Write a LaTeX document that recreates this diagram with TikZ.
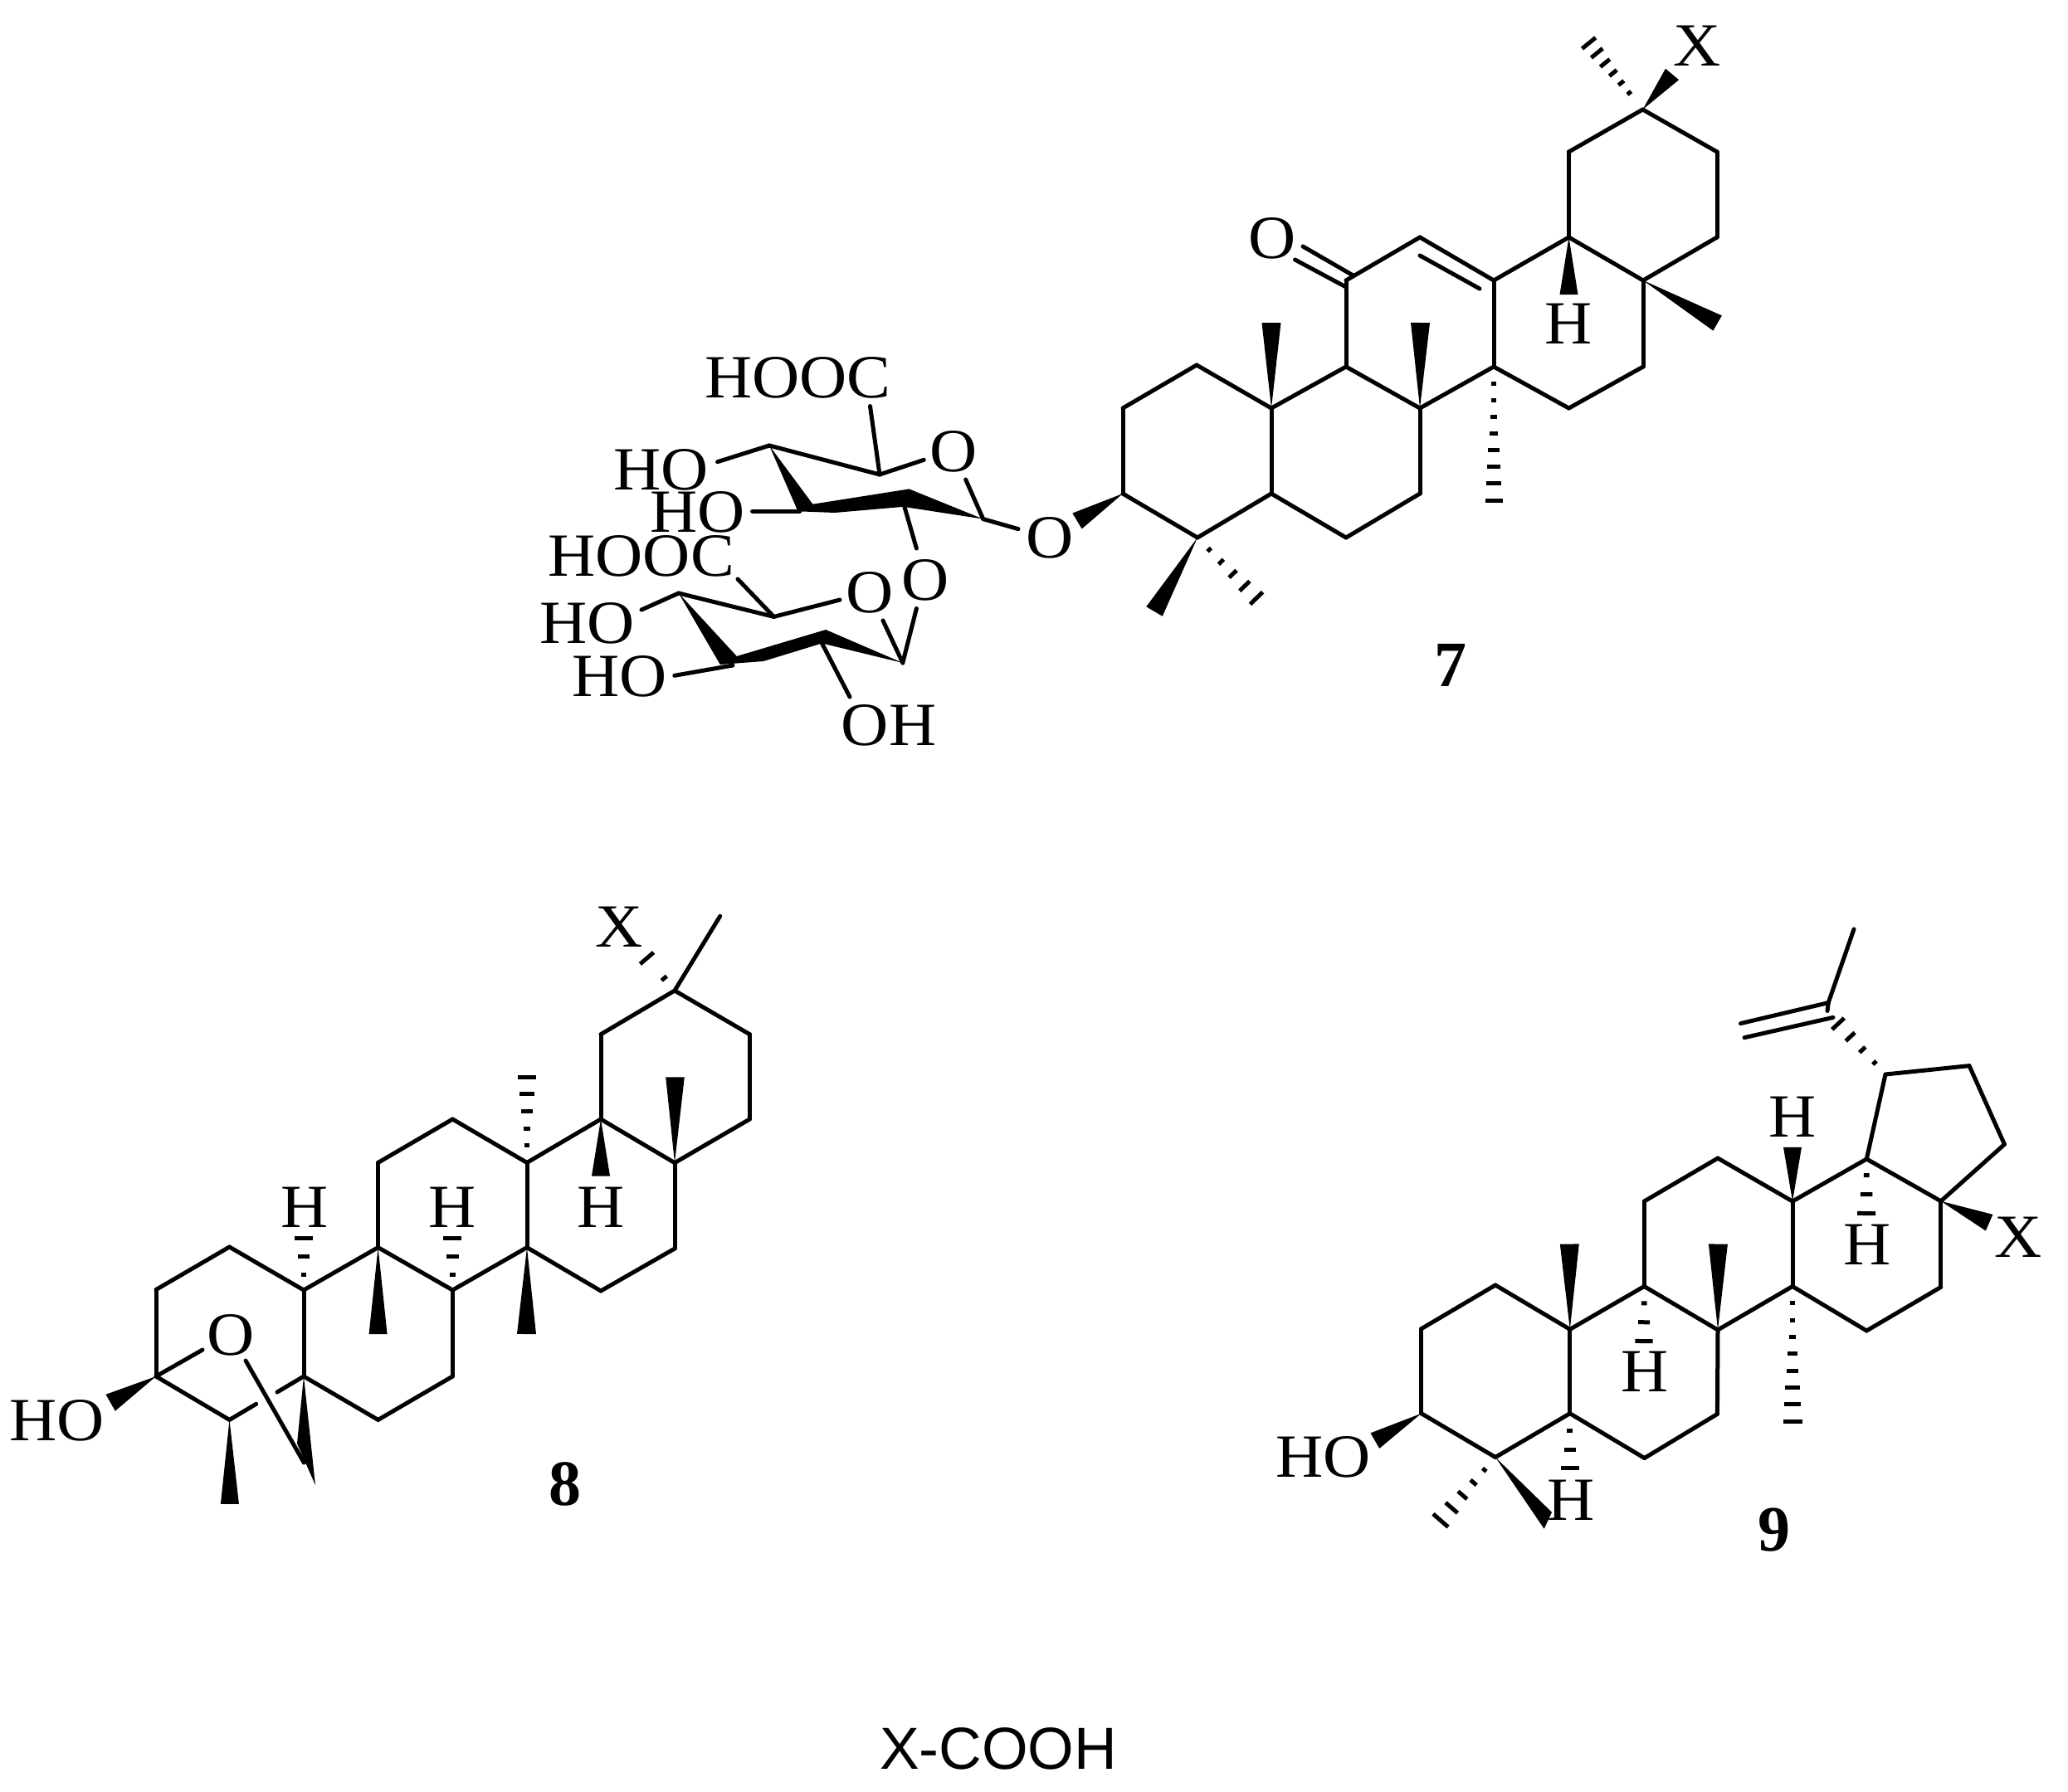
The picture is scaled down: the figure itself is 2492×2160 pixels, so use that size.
\documentclass[tikz,border=0pt]{standalone}
\usepackage{fontspec}
\usetikzlibrary{calc}
\newfontfamily\labfont[FakeStretch=1.07]{Liberation Serif}
\newfontfamily\numfont{Liberation Serif}
\newfontfamily\sansfnt{Liberation Sans}
\tikzset{
  bondline/.style={line width=5pt,line cap=round,line join=round,black},
  hashline/.style={line width=5pt,line cap=butt,black},
  lab/.style={font=\labfont\fontsize{74}{78}\selectfont,inner sep=0pt,black},
  numlab/.style={font=\numfont\bfseries\fontsize{78}{80}\selectfont,inner sep=0pt,black},
  notelab/.style={font=\sansfnt\fontsize{71.5}{75}\selectfont,inner sep=0pt,black}
}
% solid wedge: apex, centre of base, half width of base
\newcommand\wdg[3]{\fill[black] (#1) -- ($(#2)!#3pt!90:(#1)$) -- ($(#2)!#3pt!-90:(#1)$) -- cycle;}
% hashed wedge: apex, far end, count, first fraction, half width at far end
\newcommand\hsh[5]{%
  \foreach \hI in {1,...,#3}{%
    \pgfmathsetmacro\hT{#4+(1-#4)*(\hI-1)/max(#3-1,1)}%
    \pgfmathsetmacro\hW{max(#5*\hT,3)}%
    \draw[hashline] ($(#1)!\hT!(#2)!\hW pt!90:(#1)$) -- ($(#1)!\hT!(#2)!\hW pt!-90:(#1)$);
  }}
\newcommand\atoms[1]{\foreach \nA/\xA/\yA in {#1}{\coordinate (\nA) at (\xA,\yA);}}
\newcommand\bonds[1]{\foreach \aB/\bB in {#1}{\draw[bondline] (\aB) -- (\bB);}}
\begin{document}
\begin{tikzpicture}[x=1pt,y=-1pt]
\useasboundingbox (0,0) rectangle (2492,2160);
\fill[white] (0,0) rectangle (2492,2160);
%%%%%%%%%%%%%%%% compound 7
\atoms{s1/1353/492,s2/1442/440,s3/1532/492,s4/1532/595,s5/1443/648,s6/1353/595,
 s7/1622/442,s8/1711/492,s9/1711/595,s10/1622/648,s11/1622/338,s12/1711/286,s13/1800/338,s14/1800/442,
 s15/1890.5/286,s16/1980/338,s17/1980/442,s18/1890.5/492,s19/1890.5/183,s20/1979.5/132,s21/2069/183,s22/2069/286,
 sa/1711/308,sb/1783/348,
 sc/1570/297,sd/1630.5/332,se/1560.5/313,sf/1622/346,
 w1/1532/389,w2/1711.5/389,w3/1890.5/355,w4/2069.6/389.5,w5/2015/89.5,w6/1391/737,w7/1298/628,
 h1/1914.6/52,h2/1514/721,h3/1800/603}
\bonds{s1/s2,s2/s3,s3/s4,s4/s5,s5/s6,s6/s1,s3/s7,s7/s8,s8/s9,s9/s10,s10/s4,s7/s11,s11/s12,s12/s13,s13/s14,s14/s8,
 s13/s15,s15/s16,s16/s17,s17/s18,s18/s14,s15/s19,s19/s20,s20/s21,s21/s22,s22/s16,sa/sb,sc/sd,se/sf}
\wdg{s3}{w1}{11.5}
\wdg{s8}{w2}{11.5}
\wdg{s15}{w3}{11}
\wdg{s16}{w4}{10.5}
\wdg{s20}{w5}{10.5}
\wdg{s5}{w6}{11.3}
\wdg{s6}{w7}{11}
\hsh{s20}{h1}{6}{0.25}{10.5}
\hsh{s5}{h2}{5}{0.2}{10.5}
\hsh{s14}{h3}{8}{0.13}{10.5}
\node[lab] (so) at (1533.5,287.5) {O};
\node[lab] (sh) at (1890.5,390) {H};
\node[lab] (sx) at (2045.5,55) {X};
\node[lab] (soa) at (1265,648) {O};
\node[numlab] (seven) at (1748,802) {7};
%%%%%%%%%%%%%%%% sugars of 7
\atoms{u1/927/537,u2/1060/572,u4/1184.7/625.6,u5/1088.7/606.6,
 ua/1048.5/489.5,ub/1113.3/554.3,uc/1163.7/578,ud/1227/637.6,ue/906.6/616.3,uf/963.7/616.3,ug/864.6/556.7,uh/1104.4/661,
 pa/979.4/607.7,pb/1095.5/589.4,pc/1088.7/610.8,pd/1006/618,pe/961.5/616.3,
 l1/817.8/715,l2/932.5/743.4,l3/1087.8/799,l4/990.5/775.4,
 la/1012/723,lb/889/698,lc/773/735,ld/812.8/814.3,le/883/802,lf/1024/840,lg/1064/748,lh/1104.4/733.4,
 qa/887.8/791,qb/995/759,qc/920/797,qd/867.8/801}
\bonds{u1/u2,u2/ua,u2/ub,uc/u4,u4/ud,ue/uf,ug/u1,u5/uh,l1/l2,l2/la,lb/l2,lc/l1,ld/le,l4/lf,l3/lg,l3/lh}
\fill[black] (u1) -- (pa) -- (pb) -- (u4) -- (pc) -- (pd) -- (pe) -- cycle;
\fill[black] (l1) -- (qa) -- (qb) -- (l3) -- (l4) -- (qc) -- (qd) -- cycle;
\node[lab] (hooca) at (961.5,455) {HOOC};
\node[lab] (oa) at (1149.4,544.6) {O};
\node[lab] (hoa) at (797,566) {HO};
\node[lab] (hob) at (841,617) {HO};
\node[lab] (hoocb) at (772.7,670.4) {HOOC};
\node[lab] (ob) at (1114.6,699) {O};
\node[lab] (oc) at (1048.5,714) {O};
\node[lab] (hoc) at (708,751) {HO};
\node[lab] (hod) at (747,815) {HO};
\node[lab] (oha) at (1071,874.6) {OH};
%%%%%%%%%%%%%%%% compound 8
\atoms{e1/188/1554.5,e2/276.5/1503,e3/366/1555,e4/455.6/1503.6,e5/455.6/1401.4,e6/545.4/1349,e7/635/1401.4,e8/635/1503.6,
 e9/545.4/1555,e10/545.4/1659,e11/455.6/1711.4,e12/366/1659,e13/188/1659,e14/276.5/1711.4,e15/724/1349,e16/724/1556,
 e17/724/1246.7,e18/813/1194,e19/903.4/1246.7,e20/903.4/1349,e21/813/1401.6,e22/813/1505,
 ea/308.7/1692.3,eb/334/1678,ec/244/1627,ed/296/1640,ee/366.3/1763,ef/867.7/1104.3,
 ta/358/1740,tb/380/1790,tc/127.5/1680.8,td/138.8/1700.7,
 x1/276.9/1812.8,x2/455.6/1608,x3/634.5/1608,x4/724/1417.5,x5/813.5/1298.3,
 y1/366/1492.5,y2/545.4/1492.5,y3/635/1298,y4/779.5/1155}
\bonds{e1/e2,e2/e3,e3/e4,e4/e5,e5/e6,e6/e7,e7/e8,e8/e9,e9/e4,e9/e10,e10/e11,e11/e12,e12/e3,e1/e13,e13/e14,e14/ea,eb/e12,
 e7/e15,e15/e21,e15/e17,e17/e18,e18/e19,e19/e20,e20/e21,e21/e22,e22/e16,e16/e8,e13/ec,ed/ee,e18/ef}
\fill[black] (e12) -- (ta) -- (tb) -- cycle;
\fill[black] (e13) -- (tc) -- (td) -- cycle;
\wdg{e14}{x1}{11}
\wdg{e4}{x2}{11}
\wdg{e8}{x3}{11.5}
\wdg{e15}{x4}{11}
\wdg{e21}{x5}{11.3}
\hsh{e3}{y1}{3}{0.3}{11}
\hsh{e9}{y2}{3}{0.3}{11}
\hsh{e7}{y3}{5}{0.2}{11}
\hsh{e18}{y4}{2}{0.38}{10.7}
\node[lab] (oe) at (278,1609) {O};
\node[lab] (hoe) at (69,1712.5) {HO};
\node[lab] (he1) at (367,1455) {H};
\node[lab] (he2) at (545.4,1455) {H};
\node[lab] (he3) at (724.5,1455) {H};
\node[lab] (xe) at (746,1117.7) {X};
\node[numlab] (eight) at (680.6,1789) {8};
%%%%%%%%%%%%%%%% compound 9
\atoms{n1/1712.8/1601.6,n2/1802/1549,n3/1891.8/1602.3,n4/1891.8/1703.7,n5/1802/1756.5,n6/1712.8/1703.7,
 n7/1981.3/1550.5,n8/2070/1603,n9/2069.4/1704.4,n10/1981.6/1757.5,n11/1981.3/1448,n12/2070/1396,n13/2160/1448,n14/2160/1550.5,
 n15/2249.3/1397,n16/2249.3/1604,n17/2338.8/1447.8,n18/2338.8/1551.4,n19/2272/1295,n20/2373/1284.6,n21/2415.4/1379.3,
 n22/2203.2/1208.6,n23/2234/1120,na/2097.5/1233.6,nb/2102/1250.7,nc/2208.9/1226.4,nd/2202/1218.5,
 ra/1651.5/1727.3,rb/1662.2/1745.9,rc/2401.4/1463.9,rd/2392.8/1483.5,re/1870/1822.8,rf/1860.7/1842.7,
 v1/1891.3/1499.5,v2/2070.4/1499.5,v3/2160/1382.8,
 z1/2249/1462.5,z2/1981/1616.5,z3/1891.8/1769.7,z4/2160/1713,z5/2215/1234,z6/1736/1832.7}
\bonds{n1/n2,n2/n3,n3/n4,n4/n5,n5/n6,n6/n1,n3/n7,n7/n8,n8/n9,n9/n10,n10/n4,n7/n11,n11/n12,n12/n13,n13/n14,n14/n8,
 n13/n15,n15/n17,n17/n18,n18/n16,n16/n14,n15/n19,n19/n20,n20/n21,n21/n17,n23/n22,n22/nd,n22/na,nb/nc}
\wdg{n3}{v1}{11.5}
\wdg{n8}{v2}{11.5}
\wdg{n13}{v3}{11}
\fill[black] (n17) -- (rc) -- (rd) -- cycle;
\fill[black] (n6) -- (ra) -- (rb) -- cycle;
\fill[black] (n5) -- (re) -- (rf) -- cycle;
\hsh{n15}{z1}{3}{0.3}{11}
\hsh{n7}{z2}{3}{0.31}{10.7}
\hsh{n4}{z3}{3}{0.32}{10.7}
\hsh{n14}{z4}{8}{0.125}{11.5}
\hsh{n19}{z5}{4}{0.23}{10}
\hsh{n5}{z6}{5}{0.2}{12}
\node[lab] (hn1) at (2160.5,1346) {H};
\node[lab] (hn2) at (2250.4,1500.7) {H};
\node[lab] (hn3) at (1981.6,1653.7) {H};
\node[lab] (hn4) at (1892.8,1808.5) {H};
\node[lab] (xn) at (2432.4,1491.7) {X};
\node[lab] (hon) at (1594.4,1756.5) {HO};
\node[numlab] (nine) at (2137.8,1844) {9};
%%%%%%%%%%%%%%%% note
\node[notelab] (note) at (1203,2108) {X-COOH};
\end{tikzpicture}
\end{document}
